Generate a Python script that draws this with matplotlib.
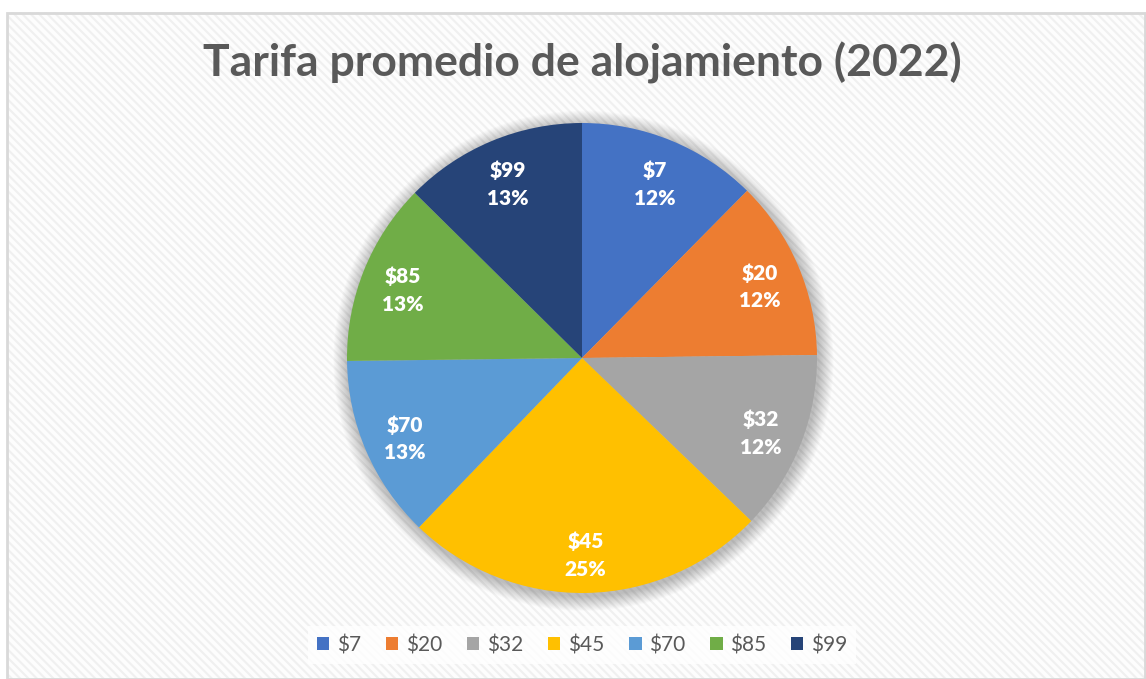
import numpy as np
import matplotlib
matplotlib.use("Agg")
import matplotlib.pyplot as plt
from matplotlib.patches import Rectangle, Circle

plt.rcParams['text.parse_math'] = False
plt.rcParams['font.family'] = ['Lato', 'DejaVu Sans']

categories = ["$7", "$20", "$32", "$45", "$70", "$85", "$99"]
shares = [12.4, 12.4, 12.4, 25.0, 12.6, 12.6, 12.6]
pct_labels = ["12%", "12%", "12%", "25%", "13%", "13%", "13%"]
colors = ["#4472C4", "#ED7D31", "#A5A5A5", "#FFC000", "#5B9BD5", "#70AD47", "#264478"]
title = "Tarifa promedio de alojamiento (2022)"

W, H = 1146, 679
fig = plt.figure(figsize=(W / 100, H / 100), dpi=100)
fig.patch.set_facecolor("white")

# chart area with diagonal stripe pattern
plt.rcParams['hatch.color'] = '#f0f0f0'
plt.rcParams['hatch.linewidth'] = 1.5
bg = Rectangle((7 / W, 0), 1 - 7 / W, 1 - 12 / H, transform=fig.transFigure,
               facecolor="#fdfdfd", edgecolor="#f0f0f0", hatch="\\\\\\\\", lw=0, zorder=-3)
fig.patches.append(bg)
border = Rectangle((7 / W, 0), 1 - 7 / W - 1 / W, 1 - 12 / H - 1 / H, transform=fig.transFigure,
                   facecolor="none", edgecolor="#d9d9d9", lw=2, zorder=-2)
fig.patches.append(border)

cx, cy, r = 582, 358, 235
pad = 25
ax = fig.add_axes([(cx - r - pad) / W, (H - cy - r - pad) / H, (2 * r + 2 * pad) / W, (2 * r + 2 * pad) / H])
ax.set_aspect("equal")
ax.axis("off")
ax.set_zorder(1)

# soft shadow
for i in range(16):
    rad = 1.0 + (16 - i) * 0.004
    ax.add_patch(Circle((0.006, -0.012), rad, color="black", alpha=0.016, lw=0, zorder=1))

wedges, texts = ax.pie(shares, colors=colors, startangle=90, counterclock=False,
                       radius=1.0, labels=None, frame=False,
                       wedgeprops=dict(linewidth=0))
ax.set_xlim(-1 - pad / r, 1 + pad / r)
ax.set_ylim(-1 - pad / r, 1 + pad / r)
for w in wedges:
    w.set_zorder(2)

cum = 0
for cat, s, pl in zip(categories, shares, pct_labels):
    mid = 90 - (cum + s / 2) / 100 * 360
    cum += s
    x = 0.82 * np.cos(np.radians(mid))
    y = 0.82 * np.sin(np.radians(mid)) - 0.018
    ax.text(x, y, f"{cat}\n{pl}", ha="center", va="center", color="white",
            fontsize=15, fontweight="heavy", linespacing=1.55, zorder=3)

fig.text(cx / W, 1 - 63 / H, title, ha="center", va="center", fontsize=32,
         fontweight="bold", color="#595959")

handles = [Rectangle((0, 0), 1, 1, facecolor=c, edgecolor="none") for c in colors]
leg = fig.legend(handles, categories, loc="center", bbox_to_anchor=(cx / W, 1 - 645 / H),
                 ncol=7, frameon=True, fontsize=15, handlelength=0.6, handleheight=0.6,
                 handletextpad=0.35, columnspacing=1.2, borderpad=0.45, labelcolor="#595959")
leg.get_frame().set_facecolor("white")
leg.get_frame().set_edgecolor("none")
leg.get_frame().set_boxstyle("square", pad=0)

fig.savefig("out.png", dpi=100)
